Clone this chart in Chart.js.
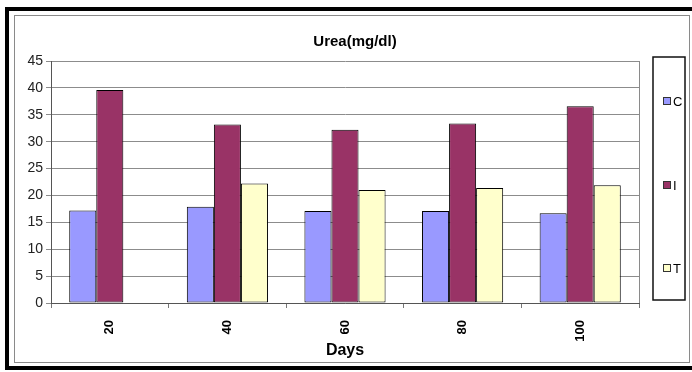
<!DOCTYPE html>
<html>
<head>
<meta charset="utf-8">
<script src="https://cdn.jsdelivr.net/npm/chart.js@4/dist/chart.umd.min.js"></script>
<style>
  body { margin: 0; background: #fff; }
  #wrap { width: 692px; height: 372px; }
</style>
</head>
<body>
<div id="wrap"><canvas id="chartDiv" width="692" height="372"></canvas></div>
<script>
// data
const days = ["20", "40", "60", "80", "100"];
const cVals = [17.2, 17.9, 17.1, 17.1, 16.7];
const iVals = [39.6, 33.2, 32.2, 33.4, 36.6];
const tVals = [null, 22.2, 21.0, 21.4, 21.9];
const seriesNames = ["C", "I", "T"];
const seriesColors = ["#9999ff", "#993366", "#ffffcc"];
const titleText = "Urea(mg/dl)";
const xTitle = "Days";

const FONT = "'Liberation Sans', Arial, sans-serif";

// frames, title, plot border and the boxed legend
const decor = {
  id: "decor",
  beforeDraw(chart) {
    const ctx = chart.ctx;
    ctx.save();
    ctx.fillStyle = "#fff";
    ctx.fillRect(0, 0, chart.width, chart.height);
    ctx.strokeStyle = "#000";
    ctx.lineWidth = 4;
    ctx.strokeRect(7, 9, 700, 359);
    ctx.strokeStyle = "#8a8a8a";
    ctx.lineWidth = 1;
    ctx.strokeRect(14.5, 15.5, 675, 347);
    ctx.restore();
  },
  afterDraw(chart) {
    const ctx = chart.ctx;
    const a = chart.chartArea;
    ctx.save();
    // plot area right edge
    ctx.strokeStyle = "#8a8a8a";
    ctx.lineWidth = 1;
    ctx.beginPath();
    ctx.moveTo(Math.round(a.right) + 0.5, a.top);
    ctx.lineTo(Math.round(a.right) + 0.5, a.bottom);
    ctx.stroke();
    // title
    ctx.fillStyle = "#000";
    ctx.font = "bold 15px " + FONT;
    ctx.textAlign = "center";
    ctx.textBaseline = "middle";
    ctx.fillText(titleText, 355, 42);
    // legend
    const bx = 653, by = 57, bw = 32, bh = 243;
    ctx.strokeStyle = "#111";
    ctx.lineWidth = 1.5;
    ctx.strokeRect(bx, by, bw, bh);
    ctx.beginPath();
    ctx.rect(bx + 1, by + 1, bw - 2, bh - 2);
    ctx.clip();
    const ys = [101, 185, 268];
    ctx.font = "13px " + FONT;
    ctx.textAlign = "left";
    chart.data.datasets.forEach((ds, k) => {
      ctx.fillStyle = ds.backgroundColor;
      ctx.fillRect(663, ys[k] - 4, 7, 7);
      ctx.strokeStyle = "#333";
      ctx.lineWidth = 1;
      ctx.strokeRect(663.5, ys[k] - 3.5, 7, 7);
      ctx.fillStyle = "#000";
      ctx.fillText(ds.label, 673, ys[k] + 1);
    });
    ctx.restore();
  },
};

const chart = new Chart(document.getElementById("chartDiv"), {
  type: "bar",
  data: {
    labels: days,
    datasets: [
      { label: seriesNames[0], data: cVals, backgroundColor: seriesColors[0] },
      { label: seriesNames[1], data: iVals, backgroundColor: seriesColors[1] },
      { label: seriesNames[2], data: tVals, backgroundColor: seriesColors[2] },
    ].map((d) => Object.assign(d, {
      borderColor: "#000",
      borderWidth: 1,
      borderSkipped: false,
      barPercentage: 1,
      categoryPercentage: 0.69,
    })),
  },
  options: {
    responsive: false,
    animation: false,
    events: [],
    layout: { padding: { left: 17, right: 53, top: 61, bottom: 0 } },
    plugins: {
      legend: { display: false },
      title: { display: false },
      tooltip: { enabled: false },
    },
    scales: {
      x: {
        afterFit: (s) => { s.height = 69; },
        border: { color: "#555", width: 1 },
        grid: { drawOnChartArea: false, drawTicks: true, tickLength: 5, color: "#777" },
        ticks: {
          color: "#000",
          minRotation: 90,
          maxRotation: 90,
          padding: 12,
          font: { family: FONT, size: 13, weight: "bold" },
        },
        title: {
          display: true,
          text: xTitle,
          color: "#000",
          font: { family: FONT, size: 16, weight: "bold" },
          padding: { top: 0, bottom: 12 },
        },
      },
      y: {
        min: 0,
        max: 45,
        afterFit: (s) => { s.width = 34; },
        border: { color: "#555", width: 1 },
        grid: { color: "#8c8c8c", tickLength: 5 },
        ticks: {
          stepSize: 5,
          color: "#222",
          padding: 3,
          font: { family: FONT, size: 14 },
        },
      },
    },
  },
  plugins: [decor],
});
</script>
</body>
</html>
